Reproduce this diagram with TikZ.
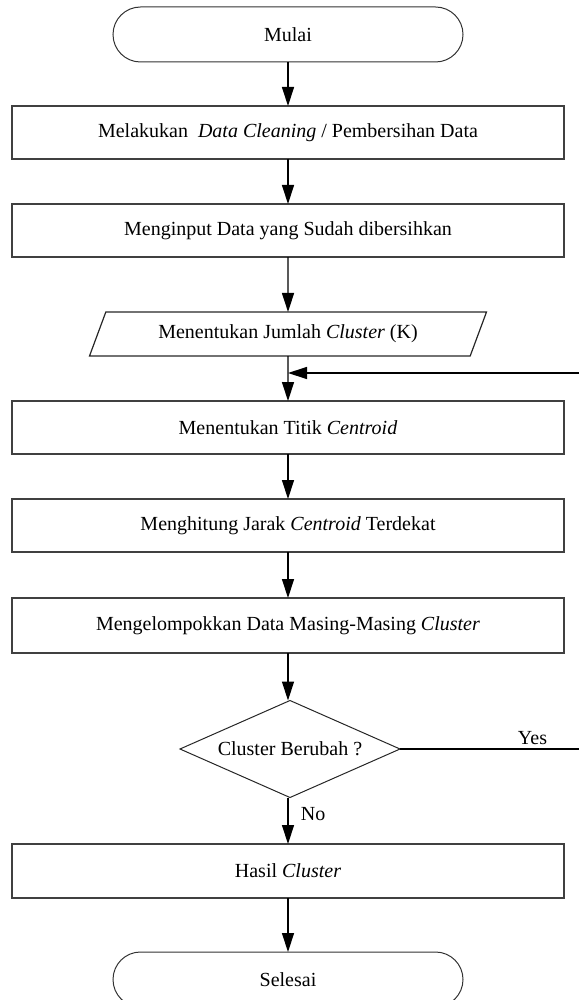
\documentclass[tikz,border=0pt]{standalone}
\usepackage{fontspec}
\setmainfont{Liberation Serif}
\usetikzlibrary{arrows.meta, positioning, shapes.geometric, shapes.misc}

\begin{document}
\begin{tikzpicture}[x=1pt, y=-1pt,
  font=\fontsize{20}{24}\selectfont,
  terminal/.style={rounded rectangle, draw=black!80, line width=1pt,
    minimum width=350pt, minimum height=55pt, inner sep=0pt, outer sep=0pt},
  process/.style={rectangle, draw=black!75, line width=1.6pt,
    minimum width=552pt, minimum height=53pt, inner sep=0pt, outer sep=0pt},
  inout/.style={trapezium, trapezium left angle=48, trapezium right angle=132,
    trapezium stretches body, draw=black!85, line width=1.2pt,
    minimum width=397pt, minimum height=44pt, inner sep=0pt, outer sep=0pt},
  decision/.style={diamond, aspect=2.27, draw=black!85, line width=1pt,
    minimum width=220pt, minimum height=97pt, inner sep=0pt, outer sep=0pt},
  flow/.style={line width=1.3pt, -{Triangle[length=19pt, width=12pt]}}
]
  \useasboundingbox (0,0) rectangle (578,1000);

  \def\cx{288}

  \node[terminal] (mulai) at (\cx,34.5) {Mulai};
  \node[process] (clean) at (\cx,132.5) {Melakukan \ \textit{Data Cleaning} / Pembersihan Data};
  \node[process] (input) at (\cx,230.5) {Menginput Data yang Sudah dibersihkan};
  \node[inout] (jumlah) at (\cx,334) {Menentukan Jumlah \textit{Cluster} (K)};
  \node[process] (titik) at (\cx,427.5) {Menentukan Titik \textit{Centroid}};
  \node[process] (jarak) at (\cx,525.5) {Menghitung Jarak \textit{Centroid} Terdekat};
  \node[process, minimum height=55pt] (kelompok) at (\cx,625.5) {Mengelompokkan Data Masing-Masing \textit{Cluster}};
  \node[decision] (ubah) at (290,749) {Cluster Berubah ?};
  \node[process, minimum height=54pt] (hasil) at (\cx,871) {Hasil \textit{Cluster}};
  \node[terminal] (selesai) at (\cx,979.5) {Selesai};

  \coordinate (join) at (\cx,373);
  \coordinate (backR) at (592,749);

  % alur utama
  \draw[flow] (mulai.south) -- (clean.north);
  \draw[flow] (clean.south) -- (input.north);
  \draw[flow] (input.south) -- (jumlah.north);
  \draw[flow] (jumlah.south) -- (titik.north);
  \draw[flow] (titik.south) -- (jarak.north);
  \draw[flow] (jarak.south) -- (kelompok.north);
  \draw[flow] (kelompok.south) -- (kelompok.south |- ubah.north);
  \draw[flow] (ubah.south -| hasil.north) -- node[right=9pt, pos=0.35] {No} (hasil.north);
  \draw[flow] (hasil.south) -- (selesai.north);

  % kembali ke centroid
  \draw[flow] (ubah.east) -- node[above, pos=0.69] {Yes} (backR) |- (join);
\end{tikzpicture}
\end{document}
